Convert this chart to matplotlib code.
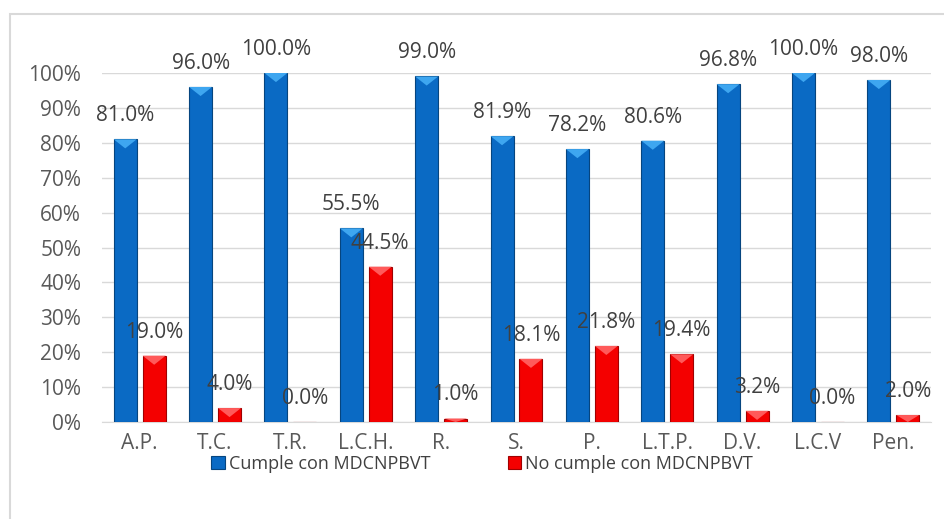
import matplotlib.pyplot as plt
from matplotlib.patches import Polygon, Rectangle
import numpy as np

# data
categories = ['A.P.', 'T.C.', 'T.R.', 'L.C.H.', 'R.', 'S.', 'P.', 'L.T.P.', 'D.V.', 'L.C.V', 'Pen.']
cumple = [81.0, 96.0, 100.0, 55.5, 99.0, 81.9, 78.2, 80.6, 96.8, 100.0, 98.0]
no_cumple = [19.0, 4.0, 0.0, 44.5, 1.0, 18.1, 21.8, 19.4, 3.2, 0.0, 2.0]

plt.rcParams['font.family'] = ['Open Sans', 'DejaVu Sans']

fig = plt.figure(figsize=(9.44, 5.19), dpi=100)
ax = fig.add_axes([102 / 944, 97 / 519, 829 / 944, 349 / 519])

# outer frame like the excel chart area
fig.patches.append(Rectangle((10 / 944, -0.05), 1.0, (519 - 14) / 519 + 0.05,
                             transform=fig.transFigure, fill=False,
                             edgecolor='#d9d9d9', linewidth=1.5))

x = np.arange(len(categories))
w = 0.305
off = 0.192

b1 = ax.bar(x - off, cumple, w, color='#0a6ac4', edgecolor='#06457f', linewidth=0.8,
            label='Cumple con MDCNPBVT', zorder=3)
b2 = ax.bar(x + off, no_cumple, w, color='#f40000', edgecolor='#a00000', linewidth=0.8,
            label='No cumple con MDCNPBVT', zorder=3)

# bevel highlight on the bar tops
for bars, light in [(b1, '#3ea6f0'), (b2, '#ff5a5a')]:
    for r in bars:
        h = r.get_height()
        if h <= 0:
            continue
        x0, bw = r.get_x(), r.get_width()
        th = min(2.6, h)
        ax.add_patch(Polygon([(x0, h), (x0 + bw, h), (x0 + bw / 2, h - th)],
                             closed=True, facecolor=light, edgecolor='none', zorder=4))

for bars, vals in [(b1, cumple), (b2, no_cumple)]:
    for r, v in zip(bars, vals):
        ax.annotate(f'{v:.1f}%', (r.get_x() + r.get_width() / 2, v),
                    xytext=(0, 17), textcoords='offset points',
                    ha='center', va='center', fontsize=15, color='#404040', zorder=5)

ax.set_xlim(-0.5, 10.5)
ax.set_ylim(0, 100)
ax.set_yticks(range(0, 101, 10))
ax.set_yticklabels([f'{t}%' for t in range(0, 101, 10)])
ax.set_xticks(x)
ax.set_xticklabels(categories)
ax.tick_params(axis='both', length=0, labelsize=15, colors='#595959')
ax.tick_params(axis='x', pad=8)
ax.tick_params(axis='y', pad=15)
ax.grid(axis='y', color='#d9d9d9', linewidth=1, zorder=0)
for s in ['top', 'right', 'left']:
    ax.spines[s].set_visible(False)
ax.spines['bottom'].set_color('#d9d9d9')

fig.legend(loc='center', bbox_to_anchor=(482 / 944, 1 - 464 / 519), ncol=2, frameon=False,
           fontsize=13, handlelength=0.75, handleheight=0.75, handletextpad=0.2,
           columnspacing=4.3, labelcolor='#404040')

fig.savefig('out.png', dpi=100)
